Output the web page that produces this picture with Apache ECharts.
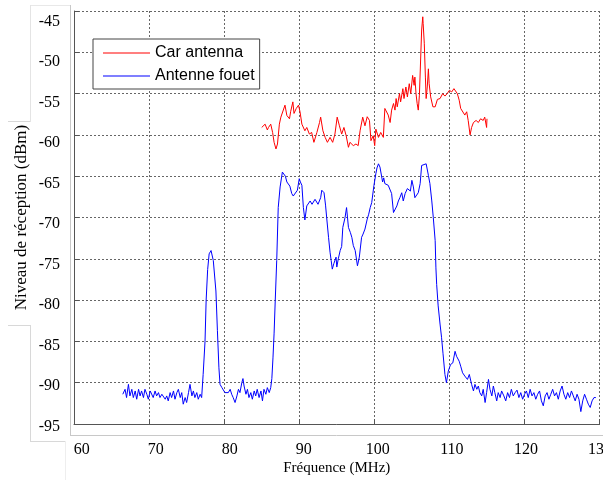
<!DOCTYPE html>
<html>
<head>
<meta charset="utf-8">
<script src="https://cdn.jsdelivr.net/npm/echarts@6/dist/echarts.min.js"></script>
<style>html,body{margin:0;padding:0;background:#fff;}#c{width:603px;height:480px;}</style>
</head>
<body>
<div id="c"></div>
<script>
// ---- data ----
const seriesNames = ['Car antenna', 'Antenne fouet'];
const xTicks = [60, 70, 80, 90, 100, 110, 120, 130];
const yTicks = [-95, -90, -85, -80, -75, -70, -65, -60, -55, -50, -45];

const carFreq = [85.0,85.45,85.65,85.75,85.9,86.2,86.45,86.65,86.9,87.1,87.35,87.55,87.8,88.1,88.35,88.7,88.85,89.15,89.3,89.6,89.9,90.1,90.35,90.55,90.75,91.0,91.35,91.65,91.95,92.35,92.7,92.85,93.15,93.45,93.75,94.1,94.45,94.75,95.05,95.35,95.65,95.95,96.25,96.55,96.75,97.2,97.55,97.85,98.1,98.45,98.75,99.05,99.35,99.55,99.85,100.05,100.2,100.55,100.85,101.2,101.4,101.65,101.85,102.1,102.3,102.55,102.75,102.9,103.05,103.35,103.5,103.8,103.95,104.2,104.4,104.65,104.85,105.1,105.3,105.4,105.55,105.7,105.85,106.0,106.2,106.3,106.45,106.5,106.65,106.8,106.9,107.05,107.2,107.3,107.5,107.8,108.1,108.4,108.75,109.1,109.4,109.7,110.0,110.3,110.6,110.85,111.05,111.3,111.5,111.75,112.05,112.3,112.5,112.75,112.95,113.2,113.55,113.85,114.15,114.5,114.7,114.95,115.0];
const carLevel = [-59.1,-58.7,-58.5,-59.4,-59.1,-58.7,-59.7,-60.9,-61.7,-61.1,-58.7,-57.85,-57.65,-56.4,-57.65,-58.05,-57.2,-56.0,-57.4,-56.8,-56.4,-57.2,-58.7,-58.5,-59.5,-59.1,-59.9,-59.7,-60.9,-59.7,-58.5,-57.85,-59.5,-60.3,-60.9,-60.3,-60.9,-59.9,-57.85,-58.9,-59.9,-59.1,-60.1,-61.5,-60.9,-61.3,-61.1,-61.3,-59.5,-57.85,-58.9,-57.8,-58.25,-60.7,-60.1,-61.3,-59.3,-60.3,-59.7,-60.3,-56.8,-57.0,-57.6,-58.5,-57.0,-56.2,-57.0,-55.6,-56.6,-55.0,-56.0,-54.4,-55.6,-54.2,-55.4,-53.8,-55.0,-52.8,-54.0,-53.0,-55.0,-56.2,-57.0,-55.2,-55.0,-47.3,-45.7,-46.5,-48.9,-53.0,-55.6,-54.2,-52.0,-53.8,-55.4,-56.6,-56.6,-55.7,-55.6,-55.0,-55.3,-55.0,-54.6,-54.8,-54.4,-54.2,-55.0,-55.8,-56.8,-56.8,-57.6,-57.2,-58.25,-60.0,-59.1,-58.5,-58.25,-58.5,-58.05,-58.25,-57.85,-59.1,-58.05];

const whipFreq = [66.5,66.8,67.0,67.25,67.45,67.7,67.9,68.15,68.35,68.6,68.8,69.0,69.25,69.45,69.7,69.9,70.15,70.35,70.55,70.8,71.0,71.25,71.45,71.7,71.9,72.15,72.35,72.55,72.8,73.0,73.25,73.45,73.7,73.9,74.15,74.35,74.55,74.8,75.0,75.25,75.45,75.7,75.9,76.1,76.35,76.55,76.8,77.0,77.2,77.45,77.6,77.8,78.0,78.25,78.55,78.9,79.1,79.3,79.45,79.7,79.9,80.1,80.35,80.55,80.8,81.0,81.2,81.45,81.7,81.9,82.1,82.35,82.5,82.65,82.9,83.1,83.3,83.55,83.75,84.0,84.2,84.4,84.65,84.9,85.1,85.3,85.55,85.75,86.0,86.2,86.35,86.5,86.65,86.8,87.0,87.2,87.45,87.75,87.95,88.15,88.35,88.55,88.75,89.0,89.2,89.45,89.75,90.0,90.15,90.35,90.55,90.75,91.0,91.25,91.45,91.7,91.9,92.1,92.35,92.5,92.7,92.85,93.0,93.3,93.5,93.65,93.9,94.1,94.25,94.4,94.6,94.75,94.9,95.0,95.2,95.45,95.65,95.8,96.1,96.3,96.55,96.8,97.0,97.2,97.45,97.75,98.0,98.3,98.5,98.75,99.05,99.25,99.45,99.65,99.95,100.2,100.35,100.55,100.75,101.0,101.1,101.25,101.4,101.65,101.85,102.1,102.3,102.55,102.75,103.0,103.2,103.4,103.65,103.85,104.1,104.4,104.65,104.8,105.0,105.2,105.4,105.65,105.85,106.1,106.3,106.5,106.9,107.2,107.4,107.65,107.85,108.1,108.2,108.3,108.5,108.75,108.95,109.15,109.4,109.6,109.85,110.15,110.45,110.75,110.95,111.3,111.5,111.75,112.05,112.4,112.65,112.95,113.2,113.4,113.65,113.85,114.05,114.3,114.5,114.75,114.95,115.2,115.4,115.65,115.85,116.05,116.3,116.5,116.75,116.95,117.25,117.5,117.75,118.0,118.25,118.5,118.75,119.0,119.25,119.5,119.75,120.0,120.25,120.5,120.75,121.0,121.25,121.5,121.75,122.0,122.25,122.5,122.75,123.0,123.25,123.5,123.75,124.0,124.25,124.5,124.75,125.0,125.25,125.5,125.75,126.0,126.25,126.5,126.75,127.0,127.25,127.5,127.75,128.0,128.25,128.5,128.75,129.0,129.25,129.5];
const whipLevel = [-91.4,-90.8,-91.8,-90.2,-91.6,-90.8,-91.8,-91.0,-92.0,-90.8,-91.6,-91.0,-91.8,-90.8,-91.4,-92.0,-91.0,-91.2,-91.8,-91.0,-91.6,-91.2,-91.8,-91.4,-91.2,-92.0,-91.6,-92.2,-91.2,-91.8,-91.0,-92.0,-91.2,-90.8,-91.8,-91.2,-92.6,-91.8,-92.4,-91.2,-90.2,-91.6,-91.0,-91.8,-91.2,-92.0,-91.4,-91.8,-89.0,-85.0,-80.0,-76.3,-74.4,-74.0,-75.2,-78.9,-83.7,-88.2,-90.2,-90.6,-90.4,-91.2,-91.0,-91.2,-90.8,-91.4,-91.8,-92.4,-91.6,-90.8,-91.2,-90.0,-89.5,-90.4,-91.4,-90.8,-91.8,-91.2,-92.0,-91.0,-91.6,-90.8,-91.8,-91.0,-92.2,-90.8,-91.4,-90.6,-91.2,-90.6,-89.5,-87.0,-84.0,-80.1,-75.2,-68.8,-66.3,-64.5,-64.4,-65.0,-65.7,-65.5,-66.2,-67.1,-67.4,-67.4,-66.7,-65.3,-65.7,-66.1,-68.8,-70.3,-68.6,-68.4,-68.0,-68.4,-68.2,-67.8,-68.0,-68.4,-68.4,-67.6,-66.7,-67.0,-68.5,-70.0,-72.4,-74.2,-75.2,-76.25,-75.6,-75.6,-74.8,-76.0,-75.0,-74.0,-73.5,-71.2,-70.0,-68.8,-71.2,-71.8,-72.4,-73.4,-74.0,-75.85,-74.8,-72.4,-72.0,-71.4,-70.2,-69.6,-68.8,-68.2,-66.1,-64.7,-64.0,-63.5,-63.9,-64.1,-65.7,-65.2,-65.9,-65.7,-66.1,-65.9,-67.1,-69.4,-69.2,-68.6,-68.0,-67.6,-67.0,-68.0,-67.1,-66.5,-66.3,-66.8,-65.5,-66.3,-67.6,-67.8,-67.0,-65.9,-63.7,-63.5,-63.5,-64.9,-65.9,-68.0,-70.0,-72.8,-76.1,-78.1,-80.7,-82.9,-84.5,-86.5,-89.0,-90.0,-88.6,-87.8,-87.6,-86.2,-86.8,-87.4,-88.0,-88.8,-89.2,-89.6,-89.0,-90.2,-91.0,-90.2,-90.8,-90.4,-91.2,-91.6,-90.8,-92.4,-91.2,-89.6,-90.8,-91.6,-90.4,-91.2,-92.2,-91.2,-91.8,-91.0,-91.6,-92.2,-91.2,-91.8,-90.8,-91.6,-91.2,-90.9,-91.8,-91.2,-92.0,-91.4,-91.0,-91.8,-90.8,-91.6,-91.2,-92.0,-91.4,-91.0,-92.2,-92.8,-91.6,-91.2,-92.0,-91.4,-90.8,-91.6,-91.2,-92.0,-91.0,-90.4,-91.4,-92.0,-91.2,-91.8,-91.0,-91.6,-92.2,-91.4,-92.0,-93.5,-92.2,-91.4,-92.0,-92.6,-93.0,-92.2,-91.8,-91.8];

// ---- chart ----
const toPairs = (xs, ys) => xs.map((x, i) => [x, ys[i]]);
const serif = 'Liberation Serif';
const chart = echarts.init(document.getElementById('c'), null, {renderer: 'canvas'});
const grayPanel = '#c8c8c8';
chart.setOption({
  animation: false,
  backgroundColor: '#ffffff',
  graphic: [
    {type: 'line', shape: {x1: 70.5, y1: 5, x2: 70.5, y2: 435.5}, style: {stroke: grayPanel, lineWidth: 1}, silent: true},
    {type: 'line', shape: {x1: 70, y1: 435.5, x2: 603, y2: 435.5}, style: {stroke: grayPanel, lineWidth: 1}, silent: true},
    {type: 'line', shape: {x1: 30, y1: 5.5, x2: 70, y2: 5.5}, style: {stroke: '#e8e8e8', lineWidth: 1}, silent: true},
    {type: 'line', shape: {x1: 30.5, y1: 5, x2: 30.5, y2: 122}, style: {stroke: '#e4e4e4', lineWidth: 1}, silent: true},
    {type: 'line', shape: {x1: 8, y1: 121.5, x2: 30, y2: 121.5}, style: {stroke: '#d8d8d8', lineWidth: 1}, silent: true},
    {type: 'line', shape: {x1: 8, y1: 325.5, x2: 30, y2: 325.5}, style: {stroke: '#d8d8d8', lineWidth: 1}, silent: true},
    {type: 'line', shape: {x1: 30.5, y1: 325, x2: 30.5, y2: 441.5}, style: {stroke: '#d8d8d8', lineWidth: 1}, silent: true},
    {type: 'line', shape: {x1: 30, y1: 441.5, x2: 65, y2: 441.5}, style: {stroke: '#d8d8d8', lineWidth: 1}, silent: true},
    {type: 'line', shape: {x1: 65.5, y1: 441, x2: 65.5, y2: 480}, style: {stroke: '#eeeeee', lineWidth: 1}, silent: true}
  ],
  grid: [
    {left: 74, right: 3.4, top: 11, bottom: 56, outerBoundsMode: 'none'},
    {left: 81.7, right: 3, top: 21.7, bottom: 53.3, outerBoundsMode: 'none'}
  ],
  legend: {
    orient: 'vertical', left: 93, top: 39,
    data: seriesNames,
    icon: 'rect',
    backgroundColor: '#ffffff', borderColor: '#444444', borderWidth: 1,
    padding: [6, 5, 5, 10],
    itemWidth: 47, itemHeight: 1, itemGap: 7, itemTextGap: 9,
    textStyle: {fontFamily: 'Liberation Sans', fontSize: 16, color: '#000', lineHeight: 16}
  },
  xAxis: [
    {
      type: 'value', gridIndex: 0, min: xTicks[0], max: xTicks[xTicks.length - 1], interval: 10,
      name: 'Fréquence (MHz)', nameLocation: 'middle', nameGap: 37,
      nameTextStyle: {fontFamily: serif, fontSize: 15, color: '#000'},
      axisLine: {show: true, onZero: false, lineStyle: {color: '#555', width: 1}},
      axisTick: {show: true, inside: true, length: 5, lineStyle: {color: '#555'}},
      axisLabel: {show: false},
      splitLine: {show: true, lineStyle: {color: '#666', type: [2, 2], width: 1}}
    },
    {
      type: 'value', gridIndex: 1, min: xTicks[0], max: xTicks[xTicks.length - 1], interval: 10,
      axisLine: {show: false}, axisTick: {show: false}, splitLine: {show: false},
      axisLabel: {show: true, margin: 15, fontFamily: serif, fontSize: 16, color: '#000'}
    }
  ],
  yAxis: [
    {
      type: 'value', gridIndex: 0, min: yTicks[0], max: yTicks[yTicks.length - 1], interval: 5,
      name: 'Niveau de réception (dBm)', nameLocation: 'middle', nameGap: 44, nameRotate: 90,
      nameTextStyle: {fontFamily: serif, fontSize: 17, color: '#000'},
      axisLine: {show: true, onZero: false, lineStyle: {color: '#555', width: 1}},
      axisTick: {show: true, inside: true, length: 5, lineStyle: {color: '#555'}},
      axisLabel: {show: false},
      splitLine: {show: true, lineStyle: {color: '#666', type: [2, 2], width: 1}}
    },
    {
      type: 'value', gridIndex: 1, min: yTicks[0], max: yTicks[yTicks.length - 1], interval: 5,
      axisLine: {show: false}, axisTick: {show: false}, splitLine: {show: false},
      axisLabel: {show: true, margin: 21.7, fontFamily: serif, fontSize: 16, color: '#000'}
    }
  ],
  series: [
    {
      name: seriesNames[0], type: 'line', xAxisIndex: 0, yAxisIndex: 0,
      data: toPairs(carFreq, carLevel), symbol: 'none', showSymbol: false,
      lineStyle: {color: '#ff0000', width: 1}, itemStyle: {color: '#ff0000'}, z: 3
    },
    {
      name: seriesNames[1], type: 'line', xAxisIndex: 0, yAxisIndex: 0,
      data: toPairs(whipFreq, whipLevel), symbol: 'none', showSymbol: false,
      lineStyle: {color: '#0000ff', width: 1}, itemStyle: {color: '#0000ff'}, z: 3
    }
  ]
});
</script>
</body>
</html>
